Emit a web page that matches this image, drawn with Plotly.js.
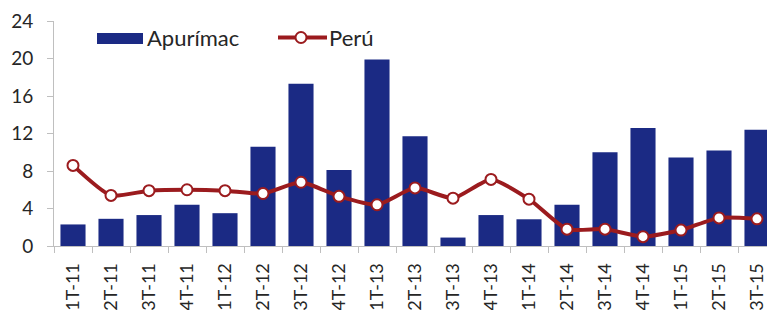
<!DOCTYPE html>
<html>
<head>
<meta charset="utf-8">
<script src="https://cdn.plot.ly/plotly-3.0.1.min.js"></script>
<style>
html,body{margin:0;padding:0;overflow:hidden;background:#fff;width:767px;height:310px;}
#chart{position:absolute;left:0;top:-20px;width:790px;height:340px;}
</style>
</head>
<body>
<div id="chart"></div>
<script>
const categories = ["1T-11","2T-11","3T-11","4T-11","1T-12","2T-12","3T-12","4T-12","1T-13","2T-13","3T-13","4T-13","1T-14","2T-14","3T-14","4T-14","1T-15","2T-15","3T-15"];
const apurimac = [2.3,2.9,3.3,4.4,3.5,10.6,17.3,8.1,19.9,11.7,0.9,3.3,2.85,4.4,10.0,12.6,9.45,10.2,12.4];
const peru = [8.6,5.4,5.9,6.0,5.9,5.6,6.8,5.3,4.4,6.2,5.1,7.1,5.0,1.8,1.8,1.0,1.7,3.0,2.9];
const yTicks = [0,4,8,12,16,20,24];
const titleText = "1T-11 - 3T-15";
const legendNames = ["Apurímac","Perú"];

const barColor = "#1B2A84";
const lineColor = "#9B1B1E";
const fontFam = "Lato, 'DejaVu Sans', sans-serif";
const txtColor = "#262626";

const traces = [
  {type:"bar", x:categories, y:apurimac, name:legendNames[0], marker:{color:barColor}, showlegend:false, hoverinfo:"skip"},
  {type:"scatter", mode:"lines+markers", x:categories, y:peru, name:legendNames[1], line:{color:lineColor,width:4,shape:"spline",smoothing:0.6},
   marker:{size:11,color:"#ffffff",line:{color:lineColor,width:2}}, showlegend:false, hoverinfo:"skip"}
];

const W = 790, H = 340, mL = 54, mR = 14, mT = 41, mB = 74;
const pw = W - mL - mR, ph = H - mT - mB;
function px(x){ return (x - mL)/pw; }
function py(y){ return (H - mB - y)/ph; }
const legY = py(57.5);

const layout = {
  width:W, height:H,
  margin:{l:mL,r:mR,t:mT,b:mB,pad:0},
  paper_bgcolor:"#fff", plot_bgcolor:"#fff",
  font:{family:fontFam, size:19, color:txtColor},
  title:{text:titleText, x:0.5, xref:"container", y:1, yref:"container", yanchor:"top", pad:{t:2}, font:{family:fontFam,size:19,color:txtColor}},
  bargap:0.34,
  xaxis:{type:"category", showline:true, linecolor:"#BFBFBF", linewidth:1, ticks:"outside", tickson:"boundaries", ticklen:6, tickcolor:"#BFBFBF",
         tickangle:-90, ticklabelstandoff:9, tickfont:{size:18,color:txtColor}, showgrid:false, zeroline:false, range:[-0.5,18.5], fixedrange:true},
  yaxis:{range:[0,24], tickvals:yTicks, ticktext:yTicks.map(String), showline:true, linecolor:"#BFBFBF", linewidth:1, ticks:"outside", ticklen:6, tickcolor:"#BFBFBF",
         ticklabelstandoff:10, tickfont:{size:19,color:txtColor}, showgrid:false, zeroline:false, fixedrange:true},
  shapes:[
    {type:"rect", xref:"paper", yref:"paper", x0:px(97), x1:px(143), y0:py(64), y1:py(53), fillcolor:barColor, line:{width:0}},
    {type:"line", xref:"paper", yref:"paper", x0:px(278), x1:px(327), y0:legY, y1:legY, line:{color:lineColor,width:4}},
    {type:"circle", xref:"paper", yref:"paper", xsizemode:"pixel", ysizemode:"pixel", xanchor:px(301), yanchor:legY, x0:-5.5, x1:5.5, y0:-5.5, y1:5.5,
     fillcolor:"#fff", line:{color:lineColor,width:2}}
  ],
  annotations:[
    {xref:"paper", yref:"paper", x:px(145), y:legY, xanchor:"left", yanchor:"middle", text:legendNames[0], showarrow:false, font:{size:22,color:txtColor}},
    {xref:"paper", yref:"paper", x:px(327), y:legY, xanchor:"left", yanchor:"middle", text:legendNames[1], showarrow:false, font:{size:22,color:txtColor}}
  ],
  showlegend:false
};

Plotly.newPlot("chart", traces, layout, {staticPlot:true, displayModeBar:false});
</script>
</body>
</html>
